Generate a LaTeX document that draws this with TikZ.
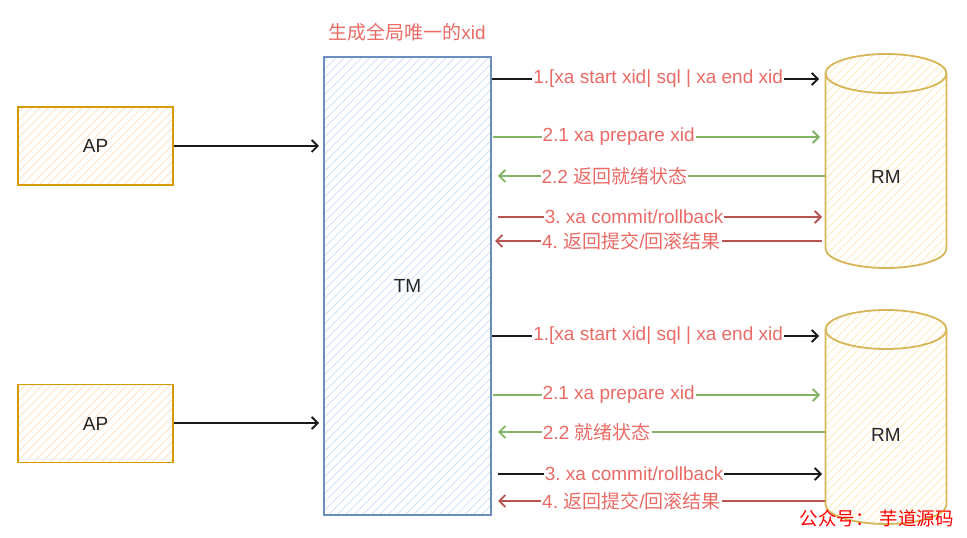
\documentclass[tikz,border=0pt]{standalone}
\usepackage{fontspec}
\setmainfont{Liberation Sans}
\newfontfamily\cjk{Noto Sans CJK SC}
\usetikzlibrary{arrows.meta,patterns.meta}
\definecolor{tmb}{HTML}{6C8EBF}
\definecolor{tmf}{HTML}{C9DDF7}
\definecolor{apb}{HTML}{D79B00}
\definecolor{apf}{HTML}{FFDDBB}
\definecolor{rmb}{HTML}{D6B656}
\definecolor{rmf}{HTML}{FBEAB5}
\definecolor{lblc}{HTML}{EA6B66}
\definecolor{grc}{HTML}{82B366}
\definecolor{rdc}{HTML}{B85450}
\definecolor{dkc}{HTML}{1A1A1A}
\frenchspacing
\begin{document}
\begin{tikzpicture}[x=1pt,y=1pt,
  txt/.style={font=\fontsize{19}{19}\selectfont, text=black!85},
  lblstyle/.style={font=\fontsize{19}{19}\selectfont\frenchspacing, text=lblc, fill=white, inner xsep=1pt, inner ysep=1pt},
  arr/.style={line width=1.9pt, -{Straight Barb[length=6pt,width=12pt,line width=1.9pt]}},
  hatch/.style={pattern={Lines[angle=45,distance=6pt,line width=0.7pt]}, pattern color=#1},
  apbox/.style={draw=apb, line width=1.8pt, preaction={fill=white}, hatch=apf, minimum width=155pt, minimum height=78pt, inner sep=0pt, txt},
  tmbox/.style={draw=tmb, line width=1.5pt, preaction={fill=white}, hatch=tmf, minimum width=167pt, minimum height=458pt, inner sep=0pt, txt},
  rmshape/.style={draw=rmb, line width=1.8pt, preaction={fill=white}, hatch=rmf}
]
\useasboundingbox (0,0) rectangle (967,538);

% title
\node[font=\fontsize{19}{19}\selectfont, text=lblc, inner sep=0pt] (title) at (407,506) {{\cjk 生成全局唯一的}xid};

% TM
\node[tmbox] (tm) at (407.5,252) {TM};

% AP boxes
\node[apbox] (ap1) at (95.5,392) {AP};
\node[apbox] (ap2) at (95.5,114.5) {AP};

% RM cylinders
\path[rmshape] (825.5,464.5) -- (825.5,289.5) arc[start angle=180,end angle=360,x radius=60.5,y radius=19.5] -- (946.5,464.5) arc[start angle=0,end angle=180,x radius=60.5,y radius=19.5] -- cycle;
\draw[draw=rmb, line width=1.8pt] (825.5,464.5) arc[start angle=180,end angle=360,x radius=60.5,y radius=19.5];
\node[txt] (rm1) at (886,361) {RM};

\path[rmshape] (825.5,208.5) -- (825.5,33.5) arc[start angle=180,end angle=360,x radius=60.5,y radius=19.5] -- (946.5,208.5) arc[start angle=0,end angle=180,x radius=60.5,y radius=19.5] -- cycle;
\draw[draw=rmb, line width=1.8pt] (825.5,208.5) arc[start angle=180,end angle=360,x radius=60.5,y radius=19.5];
\node[txt] (rm2) at (886,103) {RM};

% AP -> TM
\coordinate (t1) at (319,392);
\coordinate (t2) at (319,115);
\draw[arr, draw=dkc] (ap1.east) -- (t1);
\draw[arr, draw=dkc] (ap2.east |- t2) -- (t2);

% endpoints top group
\coordinate (a1s) at (492,459);  \coordinate (a1e) at (819,459);
\coordinate (a2s) at (493,401);  \coordinate (a2e) at (820,401);
\coordinate (a3s) at (825,362);  \coordinate (a3e) at (498,362);
\coordinate (a4s) at (498,321);  \coordinate (a4e) at (822,321);
\coordinate (a5s) at (822,297);  \coordinate (a5e) at (495,297);
% bottom group
\coordinate (b1s) at (492,202);  \coordinate (b1e) at (819,202);
\coordinate (b2s) at (493,143);  \coordinate (b2e) at (820,143);
\coordinate (b3s) at (825,106);  \coordinate (b3e) at (498,106);
\coordinate (b4s) at (498,64);   \coordinate (b4e) at (822,64);
\coordinate (b5s) at (825,37);   \coordinate (b5e) at (498,37);

\draw[arr, draw=dkc] (a1s) -- node[lblstyle, pos=0.508] (l1) {1.[xa start xid| sql | xa end xid} (a1e);
\draw[arr, draw=grc] (a2s) -- node[lblstyle, pos=0.384] (l2) {2.1 xa prepare xid} (a2e);
\draw[arr, draw=grc] (a3s) -- node[lblstyle, pos=0.644] (l3) {2.2 {\cjk 返回就绪状态}} (a3e);
\draw[arr, draw=rdc] (a4s) -- node[lblstyle, pos=0.42] (l4) {3. xa commit/rollback} (a4e);
\draw[arr, draw=rdc] (a5s) -- node[lblstyle, pos=0.583] (l5) {4. {\cjk 返回提交}/{\cjk 回滚结果}} (a5e);

\draw[arr, draw=dkc] (b1s) -- node[lblstyle, pos=0.508] (m1) {1.[xa start xid| sql | xa end xid} (b1e);
\draw[arr, draw=grc] (b2s) -- node[lblstyle, pos=0.384] (m2) {2.1 xa prepare xid} (b2e);
\draw[arr, draw=grc] (b3s) -- node[lblstyle, pos=0.698] (m3) {2.2 {\cjk 就绪状态}} (b3e);
\draw[arr, draw=dkc] (b4s) -- node[lblstyle, pos=0.42] (m4) {3. xa commit/rollback} (b4e);
\draw[arr, draw=rdc] (b5s) -- node[lblstyle, pos=0.592] (m5) {4. {\cjk 返回提交}/{\cjk 回滚结果}} (b5e);

% watermark
\node[font=\fontsize{18.5}{18.5}\selectfont\cjk, text=red, inner sep=0pt] (wm) at (876.5,20) {公众号：\hspace{6pt}芋道源码};
\end{tikzpicture}
\end{document}
